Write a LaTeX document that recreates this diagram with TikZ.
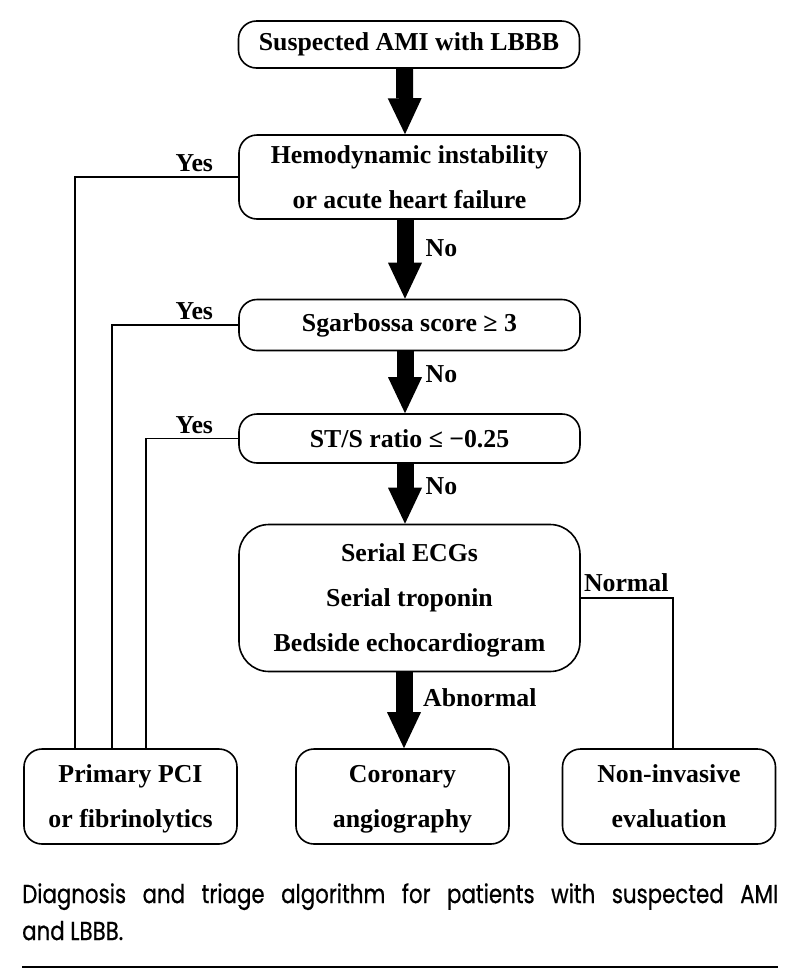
\documentclass[tikz,border=0pt]{standalone}
\usepackage{fontspec}
\setmainfont{Liberation Serif}
\newfontfamily\capfont[FakeStretch=0.82,FakeBold=0.6]{Poppins}
\usetikzlibrary{positioning,arrows.meta}

\newcommand{\lnstrut}{\rule[-8.5pt]{0pt}{34pt}}

\tikzset{
  box/.style={rectangle, draw, line width=1.6pt, rounded corners=18pt, minimum width=341pt,
    inner sep=0pt, align=center, font=\bfseries\fontsize{25.8}{45}\selectfont},
  endbox/.style={box, minimum width=213pt, minimum height=95pt},
  lbl/.style={inner sep=0pt, font=\bfseries\fontsize{25.8}{30}\selectfont},
  bigarrow/.style={line width=17pt, -{Triangle[width=34pt,length=36pt,line width=0pt]}},
  conn/.style={line width=1.6pt}
}

\begin{document}
\begin{tikzpicture}[x=1pt, y=-1pt]
  \useasboundingbox (0,0) rectangle (804,970);

  % main column
  \node[box, minimum height=47pt] (sam) at (409,44.5) {Suspected AMI with LBBB};
  \node[box, minimum height=84pt] (hem) at (409.5,177)
    {\lnstrut Hemodynamic instability\\\lnstrut or acute heart failure};
  \node[box, minimum height=51pt] (sga) at (409.5,325) {Sgarbossa score ≥ 3};
  \node[box, minimum height=49pt] (sts) at (409.5,438.5) {ST/S ratio ≤ −0.25};
  \node[box, minimum height=147pt, rounded corners=30pt] (ser) at (409.5,598)
    {\lnstrut Serial ECGs\\\lnstrut Serial troponin\\\lnstrut Bedside echocardiogram};

  % outcomes
  \node[endbox] (pci) at (130.5,796.5) {\lnstrut Primary PCI\\\lnstrut or fibrinolytics};
  \node[endbox] (cor) at (402.5,796.5) {\lnstrut Coronary\\\lnstrut angiography};
  \node[endbox] (non) at (669,796.5) {\lnstrut Non-invasive\\\lnstrut evaluation};

  % thick arrows down the middle
  \foreach \a/\b in {sam/hem, hem/sga, sga/sts, sts/ser}
    \draw[bigarrow] ([xshift=-4.5pt]\a.south) -- ([xshift=-4.5pt]\b.north);
  \draw[bigarrow] ([xshift=-5.5pt]ser.south) -- ([xshift=1.5pt]cor.north);

  \node[lbl, below right=20pt and 16pt of hem.south] (no1) {No};
  \node[lbl, below right=14pt and 16pt of sga.south] (no2) {No};
  \node[lbl, below right=13.5pt and 16pt of sts.south] (no3) {No};
  \node[lbl, below right=16.5pt and 13.5pt of ser.south] (abn) {Abnormal};

  % yes branches
  \draw[conn] (hem.west) -| ([xshift=-55.5pt]pci.north);
  \draw[conn] (sga.west) -| ([xshift=-18.5pt]pci.north);
  \draw[conn] (sts.west) -| ([xshift=15.5pt]pci.north);
  \node[lbl, above left=5pt and 25pt of hem.west] (yes1) {Yes};
  \node[lbl, above left=5pt and 25pt of sga.west] (yes2) {Yes};
  \node[lbl, above left=5pt and 25pt of sts.west] (yes3) {Yes};

  \draw[conn] (ser.east) -| ([xshift=4pt]non.north);
  \node[lbl, above right=6pt and 3pt of ser.east] (nrm) {Normal};

  % caption
  \node[anchor=north west, text width=756pt, align=justify, inner sep=0pt,
    font=\capfont\fontsize{26}{37}\selectfont] (cap) at (22,883)
    {Diagnosis and triage algorithm for patients with suspected AMI\linebreak and LBBB.};
  \draw[line width=2.5pt] (22,967) -- (778,967);
\end{tikzpicture}
\end{document}
